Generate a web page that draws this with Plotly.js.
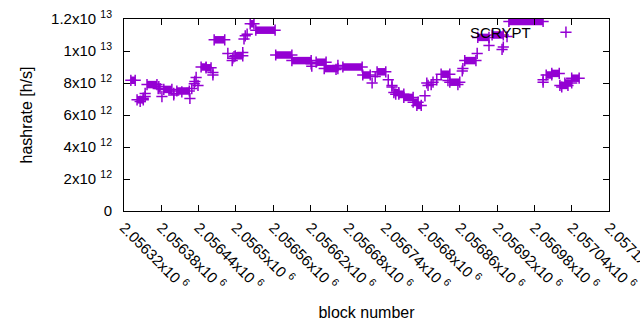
<!DOCTYPE html>
<html>
<head>
<meta charset="utf-8">
<script src="https://cdn.plot.ly/plotly-3.0.1.min.js"></script>
<style>html,body{margin:0;padding:0;background:#fff;}#chart{width:640px;height:330px;}</style>
</head>
<body>
<div id="chart"></div>
<script>
// Runs of blocks sharing one hashrate estimate (start block, end block, value in h/s x1e12)
const segStart = [2056331,2056341,2056346,2056351,2056354,2056354,2056357,2056375,2056376,2056381,2056384,2056400,2056400,2056405,2056413,2056426,2056429,2056433,2056434,2056436,2056439,2056444,2056452,2056463,2056463,2056465,2056487,2056494,2056495,2056497,2056499,2056511,2056513,2056515,2056518,2056523,2056532,2056564,2056590,2056622,2056621,2056629,2056642,2056664,2056661,2056672,2056704,2056719,2056724,2056727,2056745,2056751,2056751,2056754,2056757,2056762,2056770,2056785,2056791,2056804,2056807,2056809,2056814,2056817,2056823,2056830,2056841,2056844,2056857,2056865,2056864,2056868,2056888,2056889,2056907,2056912,2056928,2056930,2056936,2056939,2056994,2056994,2056999,2057008,2057021,2057024,2057029,2057040];
const segEnd   = [2056338,2056351,2056346,2056351,2056354,2056354,2056373,2056378,2056376,2056381,2056397,2056400,2056400,2056425,2056413,2056426,2056429,2056433,2056434,2056436,2056439,2056452,2056460,2056463,2056463,2056482,2056487,2056494,2056495,2056497,2056511,2056511,2056513,2056515,2056518,2056529,2056563,2056590,2056621,2056622,2056621,2056645,2056664,2056664,2056661,2056703,2056716,2056719,2056724,2056741,2056745,2056751,2056751,2056762,2056757,2056770,2056785,2056793,2056798,2056804,2056807,2056809,2056814,2056817,2056823,2056844,2056841,2056860,2056857,2056865,2056864,2056886,2056888,2056907,2056907,2056930,2056928,2056930,2056936,2056994,2056994,2056994,2057008,2057020,2057034,2057024,2057040,2057052];
const hashrateE12 = [8.17,6.95,6.85,7.05,7.35,7.15,7.9,7.65,7.78,7.15,7.6,7.25,7.35,7.5,7.45,7.03,7.65,7.95,8.1,8.35,7.85,9.0,8.95,8.65,8.5,10.7,9.85,9.4,9.55,9.65,9.7,9.9,10.75,10.95,11.05,11.7,11.3,9.75,9.4,9.05,9.2,9.3,8.9,9.1,8.85,9.0,8.5,8.0,8.4,8.7,8.2,7.75,7.85,7.4,7.3,7.3,7.1,6.8,6.6,7.2,8.0,7.85,7.9,8.05,8.2,8.55,8.15,8.05,7.9,8.9,8.75,9.4,9.85,10.85,10.35,11.0,10.1,10.25,10.9,11.85,8.2,8.05,8.5,8.6,7.85,7.75,8.0,8.3];

const xTickVals = [2056320,2056380,2056440,2056500,2056560,2056620,2056680,2056740,2056800,2056860,2056920,2056980,2057040,2057100];
const xTickText = ["2.05632x10 <sup>6</sup>","2.05638x10 <sup>6</sup>","2.05644x10 <sup>6</sup>","2.0565x10 <sup>6</sup>","2.05656x10 <sup>6</sup>","2.05662x10 <sup>6</sup>","2.05668x10 <sup>6</sup>","2.05674x10 <sup>6</sup>","2.0568x10 <sup>6</sup>","2.05686x10 <sup>6</sup>","2.05692x10 <sup>6</sup>","2.05698x10 <sup>6</sup>","2.05704x10 <sup>6</sup>","2.0571x10 <sup>6</sup>"];
const yTickVals = [0,2e12,4e12,6e12,8e12,1e13,1.2e13];
const yTickText = ["0","2x10 <sup>12</sup>","4x10 <sup>12</sup>","6x10 <sup>12</sup>","8x10 <sup>12</sup>","1x10 <sup>13</sup>","1.2x10 <sup>13</sup>"];

const seriesName = "SCRYPT";
const color = "#9400D3";

const lx = [], ly = [], mx = [], my = [];
for (let i = 0; i < segStart.length; i++) {
  const v = hashrateE12[i] * 1e12;
  if (segEnd[i] > segStart[i]) {
    lx.push(segStart[i], segEnd[i], null);
    ly.push(v, v, null);
    mx.push(segStart[i], segEnd[i]);
    my.push(v, v);
  } else {
    mx.push(segStart[i]);
    my.push(v);
  }
}

const traces = [
  {x: lx, y: ly, mode: "lines", type: "scatter", line: {color: color, width: 7.5}, showlegend: false, hoverinfo: "skip", connectgaps: false},
  {x: mx, y: my, mode: "markers", type: "scatter", name: "",
   marker: {symbol: "cross-thin", size: 8, color: color, line: {color: color, width: 1.5}}, showlegend: true}
];

const fontFam = "'Liberation Sans', Arial, sans-serif";
const layout = {
  width: 640, height: 330,
  margin: {l: 124, r: 31, t: 18.5, b: 119},
  paper_bgcolor: "#fff", plot_bgcolor: "#fff",
  font: {family: fontFam, size: 15, color: "#000"},
  showlegend: true,
  legend: {x: 0.87, y: 0.93, xanchor: "left", yanchor: "middle", bgcolor: "rgba(0,0,0,0)", itemwidth: 30, font: {size: 15}},
  xaxis: {
    range: [2056320, 2057100], tickvals: xTickVals, ticktext: xTickText, tickangle: 45,
    ticks: "inside", ticklen: 6, tickwidth: 1, tickcolor: "#000",
    showline: true, linecolor: "#000", linewidth: 1, mirror: "ticks",
    showgrid: false, zeroline: false, tickfont: {size: 15},
    ticklabeloverflow: "allow", ticklabelstandoff: 1,
    title: {text: "block number", font: {size: 16}, standoff: 14}
  },
  yaxis: {
    range: [0, 1.2e13], tickvals: yTickVals, ticktext: yTickText,
    ticks: "inside", ticklen: 6, tickwidth: 1, tickcolor: "#000",
    showline: true, linecolor: "#000", linewidth: 1, mirror: "ticks",
    showgrid: false, zeroline: false, tickfont: {size: 15}, ticklabelstandoff: 8,
    title: {text: "hashrate [h/s]", font: {size: 16}, standoff: 14}
  },
  annotations: [{
    text: seriesName, xref: "paper", yref: "paper", x: 0.843, y: 0.93,
    xanchor: "right", yanchor: "middle", showarrow: false, font: {size: 15, color: "#000"}
  }]
};

Plotly.newPlot("chart", traces, layout, {staticPlot: true, displayModeBar: false});
</script>
</body>
</html>
